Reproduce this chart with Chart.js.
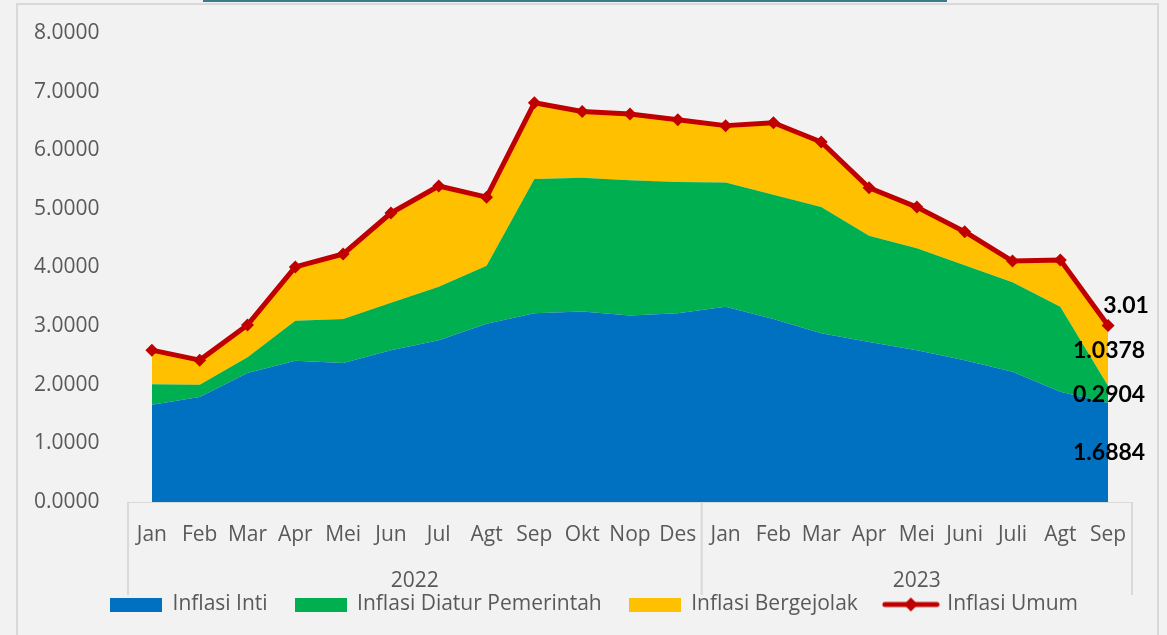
<!DOCTYPE html>
<html>
<head>
<meta charset="utf-8">
<script src="https://cdn.jsdelivr.net/npm/chart.js@4.4.1/dist/chart.umd.min.js"></script>
<style>
  html, body { margin: 0; padding: 0; background: #f2f2f2; overflow: hidden; }
  #frame { position: absolute; left: 16px; top: 3px; width: 1143px; height: 700px; border: 2px solid #d9d9d9; box-sizing: border-box; }
  #tab { position: absolute; left: 203px; top: 0; width: 744px; height: 2px; background: #3a7a8c; }
  #wrap { position: absolute; left: 0; top: 0; width: 1167px; height: 635px; }
</style>
</head>
<body>
<div id="frame"></div>
<div id="tab"></div>
<div id="wrap"><canvas id="c"></canvas></div>
<script>
// ---- data ----
const months = ['Jan','Feb','Mar','Apr','Mei','Jun','Jul','Agt','Sep','Okt','Nop','Des',
                'Jan','Feb','Mar','Apr','Mei','Juni','Juli','Agt','Sep'];
const yearLabels = ['2022','2023'];
const yearCounts = [12, 9];
const inti       = [1.66,1.79,2.20,2.41,2.37,2.59,2.76,3.04,3.22,3.25,3.18,3.22,3.33,3.12,2.88,2.73,2.59,2.42,2.22,1.88,1.6884];
const diatur     = [0.35,0.21,0.27,0.68,0.75,0.81,0.91,0.99,2.29,2.28,2.31,2.24,2.12,2.12,2.15,1.81,1.74,1.62,1.53,1.45,0.2904];
const bergejolak = [0.58,0.42,0.55,0.92,1.11,1.53,1.72,1.17,1.30,1.13,1.13,1.06,0.97,1.23,1.11,0.82,0.70,0.57,0.36,0.80,1.0378];
const umum       = [2.59,2.42,3.02,4.01,4.23,4.93,5.39,5.20,6.81,6.66,6.62,6.52,6.42,6.47,6.14,5.36,5.03,4.61,4.11,4.13,3.01];
const yTicks = [0,1,2,3,4,5,6,7,8];

const C_INTI = '#0070c0', C_DIATUR = '#00b050', C_BERG = '#ffc000', C_UMUM = '#c00000';
const TXT = '#595959';
const FONT = '"Open Sans", sans-serif';

function boxImg(color) {
  const c = document.createElement('canvas');
  c.width = 52; c.height = 14;
  const x = c.getContext('2d');
  x.fillStyle = color; x.fillRect(0, 0, 52, 14);
  return c;
}
function lineImg() {
  const c = document.createElement('canvas');
  c.width = 58; c.height = 16;
  const x = c.getContext('2d');
  x.strokeStyle = C_UMUM; x.lineWidth = 5; x.lineCap = 'round';
  x.beginPath(); x.moveTo(3, 8); x.lineTo(55, 8); x.stroke();
  x.fillStyle = C_UMUM;
  x.beginPath(); x.moveTo(29, 1); x.lineTo(36, 8); x.lineTo(29, 15); x.lineTo(22, 8); x.closePath(); x.fill();
  return c;
}
const legendImgs = [boxImg(C_INTI), boxImg(C_DIATUR), boxImg(C_BERG), lineImg()];

const extras = {
  id: 'extras',
  afterLayout(chart) {
    // centre the legend row like the original
    if (chart.legend) { chart.legend.left += 11; chart.legend.right += 11; }
  },
  afterDraw(chart) {
    const ctx = chart.ctx;
    const xs = chart.scales.x;
    const area = chart.chartArea;
    const half = (xs.getPixelForValue(1) - xs.getPixelForValue(0)) / 2;
    ctx.save();
    // group separators
    ctx.strokeStyle = '#d9d9d9'; ctx.lineWidth = 2;
    const bounds = [xs.getPixelForValue(0) - half];
    let idx = 0;
    yearCounts.forEach(n => { idx += n; bounds.push(xs.getPixelForValue(idx - 1) + half); });
    bounds.forEach(bx => {
      ctx.beginPath(); ctx.moveTo(bx, area.bottom); ctx.lineTo(bx, 595); ctx.stroke();
    });
    // year labels
    ctx.fillStyle = TXT; ctx.font = '21px ' + FONT;
    ctx.textAlign = 'center'; ctx.textBaseline = 'middle';
    yearLabels.forEach((y, i) => {
      ctx.fillText(y, (bounds[i] + bounds[i + 1]) / 2, 581);
    });
    // data labels for last point
    const ys = chart.scales.y;
    const last = months.length - 1;
    const px = xs.getPixelForValue(last);
    ctx.fillStyle = '#000';
    ctx.font = 'bold 23px Lato, sans-serif';
    const segs = [inti, diatur, bergejolak];
    let base = 0;
    const dy = [0, 0, -5];
    segs.forEach((arr, i) => {
      const v = arr[last];
      ctx.fillText(v.toFixed(4), px + 1, ys.getPixelForValue(base + v / 2) + dy[i]);
      base += v;
    });
    ctx.fillText(umum[last].toFixed(2), px + 18, ys.getPixelForValue(umum[last]) - 20);
    ctx.restore();
  }
};

new Chart(document.getElementById('c'), {
  type: 'line',
  data: {
    labels: months,
    datasets: [
      { label: 'Inflasi Inti', data: inti, stack: 'k', fill: 'origin', backgroundColor: C_INTI,
        borderColor: 'rgba(0,0,0,0)', borderWidth: 0, pointRadius: 0, tension: 0 },
      { label: 'Inflasi Diatur Pemerintah', data: diatur, stack: 'k', fill: '-1', backgroundColor: C_DIATUR,
        borderColor: 'rgba(0,0,0,0)', borderWidth: 0, pointRadius: 0, tension: 0 },
      { label: 'Inflasi Bergejolak', data: bergejolak, stack: 'k', fill: '-1', backgroundColor: C_BERG,
        borderColor: 'rgba(0,0,0,0)', borderWidth: 0, pointRadius: 0, tension: 0 },
      { label: 'Inflasi Umum', data: umum, stack: 'u', fill: false, order: -1,
        borderColor: C_UMUM, backgroundColor: C_UMUM, borderWidth: 5, borderJoinStyle: 'round',
        pointStyle: 'rectRot', pointRadius: 6.5, pointHoverRadius: 6.5, pointBorderWidth: 0,
        pointBackgroundColor: C_UMUM, tension: 0 }
    ]
  },
  options: {
    responsive: true,
    maintainAspectRatio: false,
    animation: false,
    layout: { padding: { left: 34, right: 35, top: 33, bottom: 10 } },
    scales: {
      x: {
        offset: true,
        grid: { display: false, drawTicks: false },
        border: { display: true, color: '#d9d9d9', width: 1 },
        ticks: { color: TXT, font: { family: FONT, size: 21 }, padding: 20, maxRotation: 0, autoSkip: false },
        afterFit(s) { s.height = 65; }
      },
      y: {
        stacked: true,
        min: 0, max: 8,
        afterBuildTicks(s) { s.ticks = yTicks.map(v => ({ value: v })); },
        grid: { display: false, drawTicks: false },
        border: { display: false },
        ticks: { color: TXT, font: { family: FONT, size: 21 }, padding: 0, crossAlign: 'far',
                 callback: v => Number(v).toFixed(4) },
        afterFit(s) { s.width = 94; }
      }
    },
    plugins: {
      legend: {
        position: 'bottom',
        labels: {
          usePointStyle: true, pointStyleWidth: 52, boxHeight: 14,
          padding: 27, color: TXT, font: { family: FONT, size: 21 },
          sort: (a, b) => a.datasetIndex - b.datasetIndex,
          generateLabels(chart) {
            return chart.data.datasets.map((d, i) => ({
              text: d.label, datasetIndex: i, pointStyle: legendImgs[i],
              fillStyle: d.backgroundColor, strokeStyle: d.borderColor, lineWidth: 0,
              fontColor: TXT, hidden: false
            }));
          }
        }
      },
      tooltip: { enabled: false }
    }
  },
  plugins: [extras]
});
</script>
</body>
</html>
